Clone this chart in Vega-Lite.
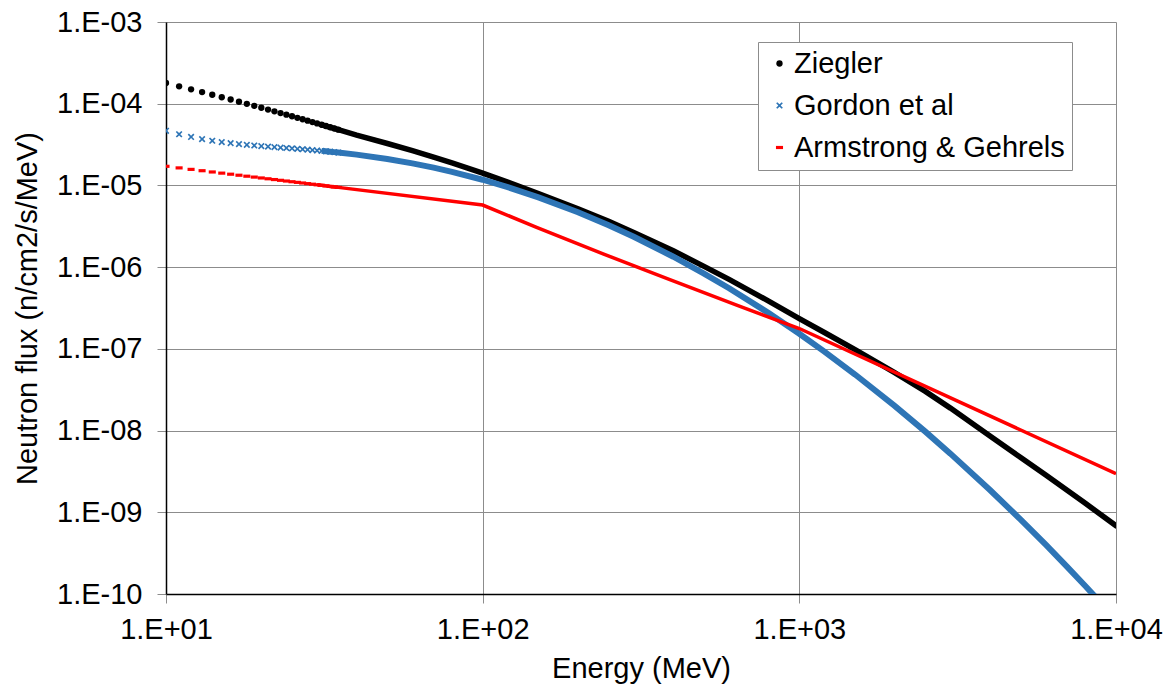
{
  "$schema": "https://vega.github.io/schema/vega-lite/v6.json",
  "width": 950,
  "height": 572,
  "autosize": {"type": "none"},
  "padding": {"left": 166, "top": 22, "right": 48, "bottom": 94},
  "background": "white",
  "config": {
    "view": {"stroke": null},
    "font": "Liberation Sans",
    "axis": {
      "grid": true,
      "gridColor": "#8c8c8c",
      "gridWidth": 1,
      "domainColor": "black",
      "domainWidth": 1.5,
      "tickColor": "#8c8c8c",
      "tickSize": 9,
      "labelFont": "Liberation Sans",
      "labelFontSize": 29,
      "labelColor": "black",
      "titleFont": "Liberation Sans",
      "titleFontSize": 29,
      "titleFontWeight": "normal",
      "titleColor": "black",
      "labelFlush": false,
      "labelOverlap": false
    }
  },
  "data": {
    "values": [
      {"energy": 10, "flux": 1.791e-4, "series": "Ziegler"},
      {"energy": 11, "flux": 1.633e-4, "series": "Ziegler"},
      {"energy": 12, "flux": 1.501e-4, "series": "Ziegler"},
      {"energy": 13, "flux": 1.387e-4, "series": "Ziegler"},
      {"energy": 14, "flux": 1.288e-4, "series": "Ziegler"},
      {"energy": 15, "flux": 1.201e-4, "series": "Ziegler"},
      {"energy": 16, "flux": 1.125e-4, "series": "Ziegler"},
      {"energy": 17, "flux": 1.057e-4, "series": "Ziegler"},
      {"energy": 18, "flux": 9.966e-5, "series": "Ziegler"},
      {"energy": 19, "flux": 9.419e-5, "series": "Ziegler"},
      {"energy": 20, "flux": 8.923e-5, "series": "Ziegler"},
      {"energy": 21, "flux": 8.474e-5, "series": "Ziegler"},
      {"energy": 22, "flux": 8.062e-5, "series": "Ziegler"},
      {"energy": 23, "flux": 7.687e-5, "series": "Ziegler"},
      {"energy": 24, "flux": 7.340e-5, "series": "Ziegler"},
      {"energy": 25, "flux": 7.021e-5, "series": "Ziegler"},
      {"energy": 26, "flux": 6.725e-5, "series": "Ziegler"},
      {"energy": 27, "flux": 6.452e-5, "series": "Ziegler"},
      {"energy": 28, "flux": 6.196e-5, "series": "Ziegler"},
      {"energy": 29, "flux": 5.958e-5, "series": "Ziegler"},
      {"energy": 30, "flux": 5.736e-5, "series": "Ziegler"},
      {"energy": 31, "flux": 5.528e-5, "series": "Ziegler"},
      {"energy": 32, "flux": 5.333e-5, "series": "Ziegler"},
      {"energy": 33, "flux": 5.148e-5, "series": "Ziegler"},
      {"energy": 34, "flux": 4.976e-5, "series": "Ziegler"},
      {"energy": 35, "flux": 4.812e-5, "series": "Ziegler"},
      {"energy": 40, "flux": 4.121e-5, "series": "Ziegler"},
      {"energy": 50, "flux": 3.258e-5, "series": "Ziegler"},
      {"energy": 60, "flux": 2.661e-5, "series": "Ziegler"},
      {"energy": 70, "flux": 2.213e-5, "series": "Ziegler"},
      {"energy": 80, "flux": 1.884e-5, "series": "Ziegler"},
      {"energy": 100, "flux": 1.413e-5, "series": "Ziegler"},
      {"energy": 120, "flux": 1.096e-5, "series": "Ziegler"},
      {"energy": 150, "flux": 7.943e-6, "series": "Ziegler"},
      {"energy": 200, "flux": 5.188e-6, "series": "Ziegler"},
      {"energy": 250, "flux": 3.631e-6, "series": "Ziegler"},
      {"energy": 300, "flux": 2.661e-6, "series": "Ziegler"},
      {"energy": 400, "flux": 1.585e-6, "series": "Ziegler"},
      {"energy": 500, "flux": 1.023e-6, "series": "Ziegler"},
      {"energy": 600, "flux": 7.079e-7, "series": "Ziegler"},
      {"energy": 800, "flux": 3.846e-7, "series": "Ziegler"},
      {"energy": 1000, "flux": 2.344e-7, "series": "Ziegler"},
      {"energy": 1200, "flux": 1.585e-7, "series": "Ziegler"},
      {"energy": 1500, "flux": 9.772e-8, "series": "Ziegler"},
      {"energy": 2000, "flux": 5.129e-8, "series": "Ziegler"},
      {"energy": 2500, "flux": 3.020e-8, "series": "Ziegler"},
      {"energy": 3000, "flux": 1.884e-8, "series": "Ziegler"},
      {"energy": 4000, "flux": 8.610e-9, "series": "Ziegler"},
      {"energy": 5000, "flux": 4.677e-9, "series": "Ziegler"},
      {"energy": 6000, "flux": 2.851e-9, "series": "Ziegler"},
      {"energy": 8000, "flux": 1.288e-9, "series": "Ziegler"},
      {"energy": 10000, "flux": 6.839e-10, "series": "Ziegler"},

      {"energy": 10, "flux": 4.665e-5, "series": "Gordon et al"},
      {"energy": 11, "flux": 4.231e-5, "series": "Gordon et al"},
      {"energy": 12, "flux": 3.920e-5, "series": "Gordon et al"},
      {"energy": 13, "flux": 3.693e-5, "series": "Gordon et al"},
      {"energy": 14, "flux": 3.523e-5, "series": "Gordon et al"},
      {"energy": 15, "flux": 3.392e-5, "series": "Gordon et al"},
      {"energy": 16, "flux": 3.290e-5, "series": "Gordon et al"},
      {"energy": 17, "flux": 3.208e-5, "series": "Gordon et al"},
      {"energy": 18, "flux": 3.140e-5, "series": "Gordon et al"},
      {"energy": 19, "flux": 3.082e-5, "series": "Gordon et al"},
      {"energy": 20, "flux": 3.031e-5, "series": "Gordon et al"},
      {"energy": 21, "flux": 2.986e-5, "series": "Gordon et al"},
      {"energy": 22, "flux": 2.945e-5, "series": "Gordon et al"},
      {"energy": 23, "flux": 2.907e-5, "series": "Gordon et al"},
      {"energy": 24, "flux": 2.871e-5, "series": "Gordon et al"},
      {"energy": 25, "flux": 2.837e-5, "series": "Gordon et al"},
      {"energy": 26, "flux": 2.804e-5, "series": "Gordon et al"},
      {"energy": 27, "flux": 2.772e-5, "series": "Gordon et al"},
      {"energy": 28, "flux": 2.740e-5, "series": "Gordon et al"},
      {"energy": 29, "flux": 2.708e-5, "series": "Gordon et al"},
      {"energy": 30, "flux": 2.677e-5, "series": "Gordon et al"},
      {"energy": 31, "flux": 2.647e-5, "series": "Gordon et al"},
      {"energy": 32, "flux": 2.617e-5, "series": "Gordon et al"},
      {"energy": 33, "flux": 2.586e-5, "series": "Gordon et al"},
      {"energy": 34, "flux": 2.556e-5, "series": "Gordon et al"},
      {"energy": 35, "flux": 2.527e-5, "series": "Gordon et al"},
      {"energy": 40, "flux": 2.381e-5, "series": "Gordon et al"},
      {"energy": 50, "flux": 2.107e-5, "series": "Gordon et al"},
      {"energy": 60, "flux": 1.864e-5, "series": "Gordon et al"},
      {"energy": 70, "flux": 1.651e-5, "series": "Gordon et al"},
      {"energy": 80, "flux": 1.468e-5, "series": "Gordon et al"},
      {"energy": 100, "flux": 1.174e-5, "series": "Gordon et al"},
      {"energy": 120, "flux": 9.525e-6, "series": "Gordon et al"},
      {"energy": 150, "flux": 7.151e-6, "series": "Gordon et al"},
      {"energy": 200, "flux": 4.694e-6, "series": "Gordon et al"},
      {"energy": 250, "flux": 3.254e-6, "series": "Gordon et al"},
      {"energy": 300, "flux": 2.350e-6, "series": "Gordon et al"},
      {"energy": 400, "flux": 1.342e-6, "series": "Gordon et al"},
      {"energy": 500, "flux": 8.348e-7, "series": "Gordon et al"},
      {"energy": 600, "flux": 5.520e-7, "series": "Gordon et al"},
      {"energy": 800, "flux": 2.741e-7, "series": "Gordon et al"},
      {"energy": 1000, "flux": 1.530e-7, "series": "Gordon et al"},
      {"energy": 1200, "flux": 9.261e-8, "series": "Gordon et al"},
      {"energy": 1500, "flux": 4.853e-8, "series": "Gordon et al"},
      {"energy": 2000, "flux": 2.004e-8, "series": "Gordon et al"},
      {"energy": 2500, "flux": 9.695e-9, "series": "Gordon et al"},
      {"energy": 3000, "flux": 5.220e-9, "series": "Gordon et al"},
      {"energy": 4000, "flux": 1.875e-9, "series": "Gordon et al"},
      {"energy": 5000, "flux": 8.139e-10, "series": "Gordon et al"},
      {"energy": 6000, "flux": 4.011e-10, "series": "Gordon et al"},
      {"energy": 7000, "flux": 2.166e-10, "series": "Gordon et al"},
      {"energy": 8000, "flux": 1.253e-10, "series": "Gordon et al"},
      {"energy": 9000, "flux": 7.651e-11, "series": "Gordon et al"},
      {"energy": 10000, "flux": 4.881e-11, "series": "Gordon et al"},

      {"energy": 10, "flux": 1.714e-5, "series": "Armstrong & Gehrels"},
      {"energy": 11, "flux": 1.639e-5, "series": "Armstrong & Gehrels"},
      {"energy": 12, "flux": 1.572e-5, "series": "Armstrong & Gehrels"},
      {"energy": 13, "flux": 1.514e-5, "series": "Armstrong & Gehrels"},
      {"energy": 14, "flux": 1.461e-5, "series": "Armstrong & Gehrels"},
      {"energy": 15, "flux": 1.414e-5, "series": "Armstrong & Gehrels"},
      {"energy": 16, "flux": 1.372e-5, "series": "Armstrong & Gehrels"},
      {"energy": 17, "flux": 1.333e-5, "series": "Armstrong & Gehrels"},
      {"energy": 18, "flux": 1.297e-5, "series": "Armstrong & Gehrels"},
      {"energy": 19, "flux": 1.265e-5, "series": "Armstrong & Gehrels"},
      {"energy": 20, "flux": 1.234e-5, "series": "Armstrong & Gehrels"},
      {"energy": 21, "flux": 1.206e-5, "series": "Armstrong & Gehrels"},
      {"energy": 22, "flux": 1.180e-5, "series": "Armstrong & Gehrels"},
      {"energy": 23, "flux": 1.155e-5, "series": "Armstrong & Gehrels"},
      {"energy": 24, "flux": 1.132e-5, "series": "Armstrong & Gehrels"},
      {"energy": 25, "flux": 1.110e-5, "series": "Armstrong & Gehrels"},
      {"energy": 26, "flux": 1.090e-5, "series": "Armstrong & Gehrels"},
      {"energy": 27, "flux": 1.071e-5, "series": "Armstrong & Gehrels"},
      {"energy": 28, "flux": 1.052e-5, "series": "Armstrong & Gehrels"},
      {"energy": 29, "flux": 1.035e-5, "series": "Armstrong & Gehrels"},
      {"energy": 30, "flux": 1.018e-5, "series": "Armstrong & Gehrels"},
      {"energy": 31, "flux": 1.003e-5, "series": "Armstrong & Gehrels"},
      {"energy": 32, "flux": 9.877e-6, "series": "Armstrong & Gehrels"},
      {"energy": 33, "flux": 9.732e-6, "series": "Armstrong & Gehrels"},
      {"energy": 34, "flux": 9.596e-6, "series": "Armstrong & Gehrels"},
      {"energy": 35, "flux": 9.465e-6, "series": "Armstrong & Gehrels"},
      {"energy": 100, "flux": 5.754e-6, "series": "Armstrong & Gehrels"},
      {"energy": 148, "flux": 3.076e-6, "series": "Armstrong & Gehrels"},
      {"energy": 240, "flux": 1.454e-6, "series": "Armstrong & Gehrels"},
      {"energy": 390, "flux": 7.015e-7, "series": "Armstrong & Gehrels"},
      {"energy": 634, "flux": 3.436e-7, "series": "Armstrong & Gehrels"},
      {"energy": 1000, "flux": 1.774e-7, "series": "Armstrong & Gehrels"},
      {"energy": 3162, "flux": 2.296e-8, "series": "Armstrong & Gehrels"},
      {"energy": 10000, "flux": 2.972e-9, "series": "Armstrong & Gehrels"}
    ]
  },
  "encoding": {
    "x": {
      "field": "energy",
      "type": "quantitative",
      "title": "Energy (MeV)",
      "scale": {"type": "log", "domain": [10, 10000], "nice": false},
      "axis": {
        "values": [10, 100, 1000, 10000],
        "labelExpr": "'1.E+0' + round(log(datum.value) / LN10)",
        "labelPadding": 12,
        "titlePadding": 10
      }
    },
    "y": {
      "field": "flux",
      "type": "quantitative",
      "title": "Neutron flux (n/cm2/s/MeV)",
      "scale": {"type": "log", "domain": [1e-10, 1e-3], "nice": false},
      "axis": {
        "values": [1e-10, 1e-9, 1e-8, 1e-7, 1e-6, 1e-5, 1e-4, 1e-3],
        "labelExpr": "'1.E-' + (round(log(datum.value) / LN10) > -10 ? '0' : '') + abs(round(log(datum.value) / LN10))",
        "labelPadding": 15,
        "titlePadding": 14
      }
    }
  },
  "layer": [
    {
      "transform": [{"filter": "datum.series === 'Ziegler' && datum.energy >= 31"}],
      "mark": {"type": "line", "color": "black", "strokeWidth": 5.5, "strokeCap": "round", "clip": true},
      "encoding": {}
    },
    {
      "transform": [{"filter": "datum.series === 'Gordon et al' && datum.energy >= 31"}],
      "mark": {"type": "line", "color": "#2E75B6", "strokeWidth": 6, "clip": true},
      "encoding": {}
    },
    {
      "transform": [{"filter": "datum.series === 'Armstrong & Gehrels' && datum.energy >= 30"}],
      "mark": {"type": "line", "color": "#FF0000", "strokeWidth": 3.5, "clip": true},
      "encoding": {}
    },
    {
      "transform": [{"filter": "datum.energy <= 35"}],
      "mark": {"type": "point", "filled": true, "opacity": 1, "clip": true},
      "encoding": {
        "size": {
          "field": "series",
          "type": "nominal",
          "scale": {
            "domain": ["Ziegler", "Gordon et al", "Armstrong & Gehrels"],
            "range": [40, 50, 42]
          },
          "legend": null
        },
        "color": {
          "field": "series",
          "type": "nominal",
          "scale": {
            "domain": ["Ziegler", "Gordon et al", "Armstrong & Gehrels"],
            "range": ["#000000", "#2E75B6", "#FF0000"]
          },
          "legend": {
            "orient": "none",
            "legendX": 592,
            "legendY": 20,
            "title": null,
            "labelFont": "Liberation Sans",
            "labelFontSize": 29,
            "labelColor": "black",
            "labelLimit": 400,
            "strokeColor": "#8c8c8c",
            "fillColor": "white",
            "padding": 7,
            "rowPadding": 12,
            "symbolOffset": 0,
            "labelOffset": 0,
            "symbolSize": 25
          }
        },
        "shape": {
          "field": "series",
          "type": "nominal",
          "scale": {
            "domain": ["Ziegler", "Gordon et al", "Armstrong & Gehrels"],
            "range": [
              "circle",
              "M-1,-0.65L-0.65,-1L0,-0.35L0.65,-1L1,-0.65L0.35,0L1,0.65L0.65,1L0,0.35L-0.65,1L-1,0.65L-0.35,0Z",
              "M-1,-0.45L1,-0.45L1,0.45L-1,0.45Z"
            ]
          },
          "legend": {
            "orient": "none",
            "legendX": 592,
            "legendY": 20,
            "title": null,
            "labelFont": "Liberation Sans",
            "labelFontSize": 29,
            "labelColor": "black",
            "labelLimit": 400,
            "strokeColor": "#8c8c8c",
            "fillColor": "white",
            "padding": 7,
            "rowPadding": 12,
            "symbolOffset": 0,
            "labelOffset": 0,
            "symbolSize": 25
          }
        }
      }
    }
  ]
}
